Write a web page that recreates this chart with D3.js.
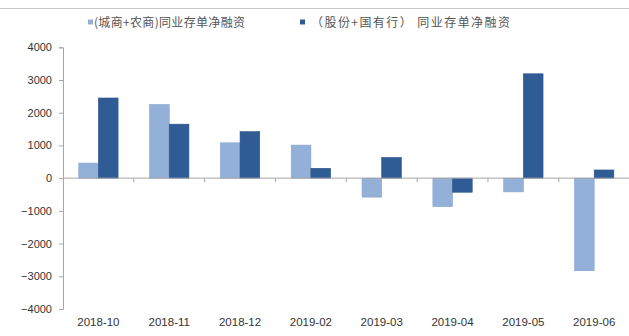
<!DOCTYPE html>
<html>
<head>
<meta charset="utf-8">
<script src="https://cdn.jsdelivr.net/npm/d3@7"></script>
<style>
  html, body { margin: 0; padding: 0; background: #fff; }
  svg { display: block; }
</style>
</head>
<body>
<svg id="chart" width="629" height="336"></svg>
<script>
// Monthly net financing via interbank certificates of deposit (亿元)
const categories = ["2018-10", "2018-11", "2018-12", "2019-02", "2019-03", "2019-04", "2019-05", "2019-06"];
const seriesNames = ["(城商+农商)同业存单净融资", "（股份+国有行） 同业存单净融资"];
const cityRuralValues = [460, 2250, 1080, 1010, -580, -870, -420, -2830];
const jointStateValues = [2450, 1650, 1420, 300, 630, -430, 3190, 250];
const yTicks = [-4000, -3000, -2000, -1000, 0, 1000, 2000, 3000, 4000];

const colors = ["#93b1d8", "#305c96"];
const svg = d3.select("#chart");
const W = 629;
const margin = { left: 63, top: 47.3 };

const rows = categories.map((c, i) => ({ cat: c, values: [cityRuralValues[i], jointStateValues[i]] }));

const x0 = d3.scaleBand().domain(categories).range([margin.left, 629.6]).padding(0);
const x1 = d3.scaleBand().domain([0, 1]).range([0, x0.bandwidth()]).paddingInner(0).paddingOuter(0.8);
const y = d3.scaleLinear().domain([-4000, 4000]).range([309, margin.top]);

// Rule separating the heading area
svg.append("line")
  .attr("x1", 0).attr("x2", W).attr("y1", 8.5).attr("y2", 8.5)
  .attr("stroke", "#c8c8c8").attr("stroke-width", 1);

// Legend
const legend = svg.append("g").attr("font-family", "Noto Sans CJK SC").attr("font-size", 12).attr("fill", "#555");
const legendBox = [{ sx: 88, tx: 94, len: 151 }, { sx: 300, tx: 311, len: 199 }];
seriesNames.forEach((name, i) => {
  const b = legendBox[i];
  legend.append("rect").attr("x", b.sx).attr("y", 19.5).attr("width", 5).attr("height", 5).attr("fill", colors[i]);
  legend.append("text").attr("x", b.tx).attr("y", 26.5)
    .attr("textLength", b.len).attr("lengthAdjust", "spacing")
    .text(name);
});

// Y axis
const yAxis = d3.axisLeft(y).tickValues(yTicks).tickSize(4).tickPadding(7).tickFormat(d3.format("d"));
const gy = svg.append("g").attr("transform", `translate(${margin.left},0)`).call(yAxis);
gy.select(".domain").attr("stroke", "#a6a6a6");
gy.selectAll(".tick line").attr("stroke", "#a6a6a6");
gy.selectAll(".tick text").attr("font-family", "Liberation Sans, Arial, sans-serif").attr("font-size", 11).attr("fill", "#333");

// Bars
const groups = svg.append("g").selectAll("g").data(rows).join("g")
  .attr("transform", d => `translate(${x0(d.cat)},0)`);
groups.selectAll("rect").data(d => d.values.map((v, i) => ({ v, i }))).join("rect")
  .attr("x", d => x1(d.i))
  .attr("width", x1.bandwidth())
  .attr("y", d => y(Math.max(0, d.v)))
  .attr("height", d => Math.abs(y(d.v) - y(0)))
  .attr("fill", d => colors[d.i])
  .attr("stroke", d => d.i === 1 ? "#2a5288" : "#87a6cf")
  .attr("stroke-width", 0.6);

// Zero line with category boundary ticks
svg.append("line").attr("x1", margin.left).attr("x2", W).attr("y1", y(0)).attr("y2", y(0)).attr("stroke", "#a6a6a6");
svg.append("g").selectAll("line").data(categories.slice(1)).join("line")
  .attr("x1", d => x0(d)).attr("x2", d => x0(d))
  .attr("y1", y(0)).attr("y2", y(0) + 4)
  .attr("stroke", "#a6a6a6");

// Category labels along the bottom
svg.append("g").selectAll("text").data(categories).join("text")
  .attr("x", d => x0(d) + x0.bandwidth() / 2)
  .attr("y", 326)
  .attr("text-anchor", "middle")
  .attr("font-family", "Liberation Sans, Arial, sans-serif")
  .attr("font-size", 11.5)
  .attr("fill", "#333")
  .text(d => d);
</script>
</body>
</html>
